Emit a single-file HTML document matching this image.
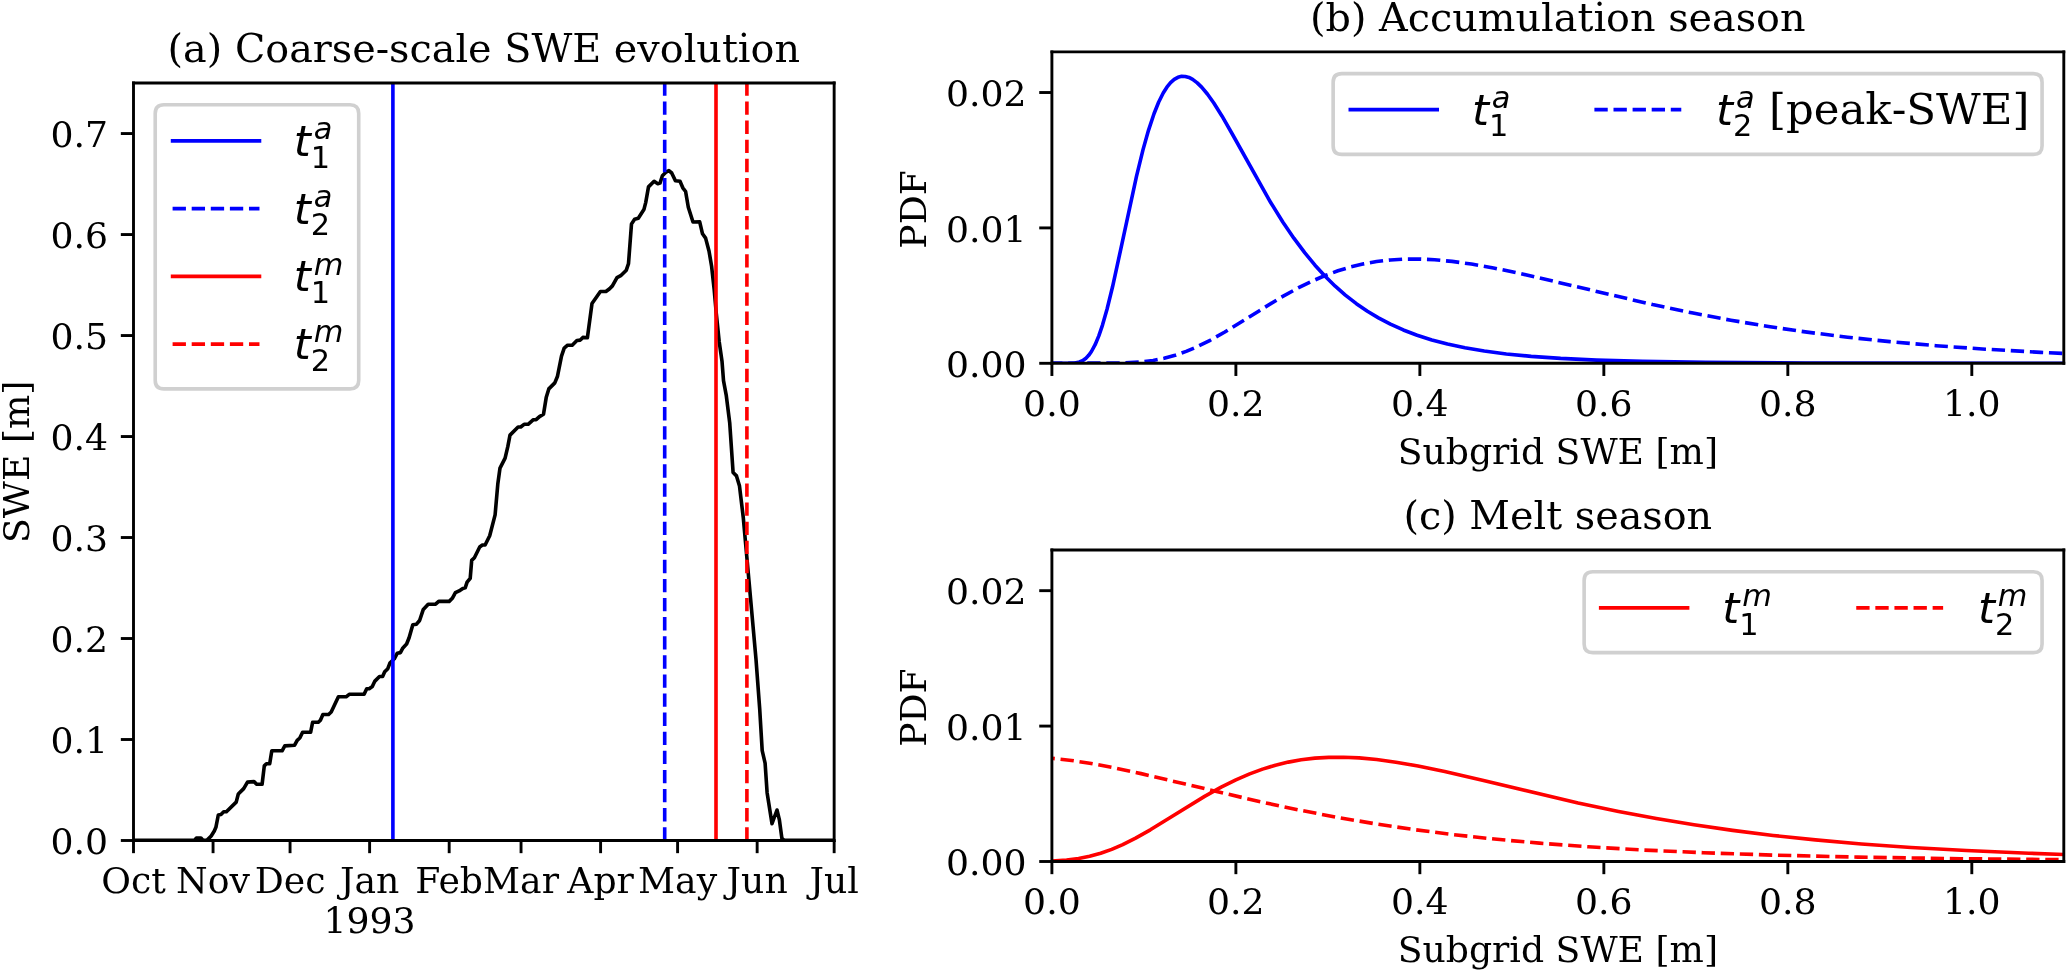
<!DOCTYPE html>
<html><head><meta charset="utf-8"><title>SWE figure</title>
<style>html,body{margin:0;padding:0;background:#fff;}body{width:2067px;height:972px;overflow:hidden;}svg{display:block;will-change:transform;}</style>
</head><body>
<svg width="2067" height="972" viewBox="0 0 570.994475 268.508287" version="1.1">
 <defs>
  <style type="text/css">*{stroke-linejoin: round; stroke-linecap: butt}</style>
 </defs>
 <g id="figure_1">
  <g id="patch_1">
   <path d="M 0 268.508287 L 570.994475 268.508287 L 570.994475 0 L 0 0 z
" style="fill: #ffffff"/>
  </g>
  <g id="axes_1">
   <g id="patch_2">
    <path d="M 36.878453 232.18232 L 230.428177 232.18232 L 230.428177 22.941989 L 36.878453 22.941989 z
" style="fill: #ffffff"/>
   </g>
   <g id="matplotlib.axis_1">
    <g id="xtick_1">
     <g id="line2d_1">
      <defs>
       <path id="m1504cfccaf" d="M 0 0 L 0 3.5 " style="stroke: #000000; stroke-width: 0.8"/>
      </defs>
      <g>
       <use href="#m1504cfccaf" x="36.878453" y="232.18232" style="stroke: #000000; stroke-width: 0.8"/>
      </g>
     </g>
     <g id="text_1">
      <text style="font-size: 10px; font-family: 'DejaVu Serif', serif; text-anchor: middle" x="36.878453" y="246.780758" transform="rotate(-0 36.878453 246.780758)">Oct</text>
     </g>
    </g>
    <g id="xtick_2">
     <g id="line2d_2">
      <g>
       <use href="#m1504cfccaf" x="58.856627" y="232.18232" style="stroke: #000000; stroke-width: 0.8"/>
      </g>
     </g>
     <g id="text_2">
      <text style="font-size: 10px; font-family: 'DejaVu Serif', serif; text-anchor: middle" x="58.856627" y="246.780758" transform="rotate(-0 58.856627 246.780758)">Nov</text>
     </g>
    </g>
    <g id="xtick_3">
     <g id="line2d_3">
      <g>
       <use href="#m1504cfccaf" x="80.125827" y="232.18232" style="stroke: #000000; stroke-width: 0.8"/>
      </g>
     </g>
     <g id="text_3">
      <text style="font-size: 10px; font-family: 'DejaVu Serif', serif; text-anchor: middle" x="80.125827" y="246.780758" transform="rotate(-0 80.125827 246.780758)">Dec</text>
     </g>
    </g>
    <g id="xtick_4">
     <g id="line2d_4">
      <g>
       <use href="#m1504cfccaf" x="102.104001" y="232.18232" style="stroke: #000000; stroke-width: 0.8"/>
      </g>
     </g>
     <g id="text_4">
      <text style="font-size: 10px; font-family: 'DejaVu Serif', serif" transform="translate(93.897751 246.780758)">Jan</text>
      <text style="font-size: 10px; font-family: 'DejaVu Serif', serif" transform="translate(89.379001 257.729951)">1993</text>
     </g>
    </g>
    <g id="xtick_5">
     <g id="line2d_5">
      <g>
       <use href="#m1504cfccaf" x="124.082175" y="232.18232" style="stroke: #000000; stroke-width: 0.8"/>
      </g>
     </g>
     <g id="text_5">
      <text style="font-size: 10px; font-family: 'DejaVu Serif', serif; text-anchor: middle" x="124.082175" y="246.780758" transform="rotate(-0 124.082175 246.780758)">Feb</text>
     </g>
    </g>
    <g id="xtick_6">
     <g id="line2d_6">
      <g>
       <use href="#m1504cfccaf" x="143.933428" y="232.18232" style="stroke: #000000; stroke-width: 0.8"/>
      </g>
     </g>
     <g id="text_6">
      <text style="font-size: 10px; font-family: 'DejaVu Serif', serif; text-anchor: middle" x="143.933428" y="246.780758" transform="rotate(-0 143.933428 246.780758)">Mar</text>
     </g>
    </g>
    <g id="xtick_7">
     <g id="line2d_7">
      <g>
       <use href="#m1504cfccaf" x="165.911602" y="232.18232" style="stroke: #000000; stroke-width: 0.8"/>
      </g>
     </g>
     <g id="text_7">
      <text style="font-size: 10px; font-family: 'DejaVu Serif', serif; text-anchor: middle" x="165.911602" y="246.780758" transform="rotate(-0 165.911602 246.780758)">Apr</text>
     </g>
    </g>
    <g id="xtick_8">
     <g id="line2d_8">
      <g>
       <use href="#m1504cfccaf" x="187.180803" y="232.18232" style="stroke: #000000; stroke-width: 0.8"/>
      </g>
     </g>
     <g id="text_8">
      <text style="font-size: 10px; font-family: 'DejaVu Serif', serif; text-anchor: middle" x="187.180803" y="246.63857" transform="rotate(-0 187.180803 246.63857)">May</text>
     </g>
    </g>
    <g id="xtick_9">
     <g id="line2d_9">
      <g>
       <use href="#m1504cfccaf" x="209.158976" y="232.18232" style="stroke: #000000; stroke-width: 0.8"/>
      </g>
     </g>
     <g id="text_9">
      <text style="font-size: 10px; font-family: 'DejaVu Serif', serif; text-anchor: middle" x="209.158976" y="246.780758" transform="rotate(-0 209.158976 246.780758)">Jun</text>
     </g>
    </g>
    <g id="xtick_10">
     <g id="line2d_10">
      <g>
       <use href="#m1504cfccaf" x="230.428177" y="232.18232" style="stroke: #000000; stroke-width: 0.8"/>
      </g>
     </g>
     <g id="text_10">
      <text style="font-size: 10px; font-family: 'DejaVu Serif', serif; text-anchor: middle" x="230.428177" y="246.780758" transform="rotate(-0 230.428177 246.780758)">Jul</text>
     </g>
    </g>
   </g>
   <g id="matplotlib.axis_2">
    <g id="ytick_1">
     <g id="line2d_11">
      <defs>
       <path id="m5d545ce8f8" d="M 0 0 L -3.5 0 " style="stroke: #000000; stroke-width: 0.8"/>
      </defs>
      <g>
       <use href="#m5d545ce8f8" x="36.878453" y="232.18232" style="stroke: #000000; stroke-width: 0.8"/>
      </g>
     </g>
     <g id="text_11">
      <text style="font-size: 10px; font-family: 'DejaVu Serif', serif; text-anchor: end" x="29.878453" y="235.981539" transform="rotate(-0 29.878453 235.981539)">0.0</text>
     </g>
    </g>
    <g id="ytick_2">
     <g id="line2d_12">
      <g>
       <use href="#m5d545ce8f8" x="36.878453" y="204.28361" style="stroke: #000000; stroke-width: 0.8"/>
      </g>
     </g>
     <g id="text_12">
      <text style="font-size: 10px; font-family: 'DejaVu Serif', serif; text-anchor: end" x="29.878453" y="208.082828" transform="rotate(-0 29.878453 208.082828)">0.1</text>
     </g>
    </g>
    <g id="ytick_3">
     <g id="line2d_13">
      <g>
       <use href="#m5d545ce8f8" x="36.878453" y="176.384899" style="stroke: #000000; stroke-width: 0.8"/>
      </g>
     </g>
     <g id="text_13">
      <text style="font-size: 10px; font-family: 'DejaVu Serif', serif; text-anchor: end" x="29.878453" y="180.184117" transform="rotate(-0 29.878453 180.184117)">0.2</text>
     </g>
    </g>
    <g id="ytick_4">
     <g id="line2d_14">
      <g>
       <use href="#m5d545ce8f8" x="36.878453" y="148.486188" style="stroke: #000000; stroke-width: 0.8"/>
      </g>
     </g>
     <g id="text_14">
      <text style="font-size: 10px; font-family: 'DejaVu Serif', serif; text-anchor: end" x="29.878453" y="152.285407" transform="rotate(-0 29.878453 152.285407)">0.3</text>
     </g>
    </g>
    <g id="ytick_5">
     <g id="line2d_15">
      <g>
       <use href="#m5d545ce8f8" x="36.878453" y="120.587477" style="stroke: #000000; stroke-width: 0.8"/>
      </g>
     </g>
     <g id="text_15">
      <text style="font-size: 10px; font-family: 'DejaVu Serif', serif; text-anchor: end" x="29.878453" y="124.386696" transform="rotate(-0 29.878453 124.386696)">0.4</text>
     </g>
    </g>
    <g id="ytick_6">
     <g id="line2d_16">
      <g>
       <use href="#m5d545ce8f8" x="36.878453" y="92.688766" style="stroke: #000000; stroke-width: 0.8"/>
      </g>
     </g>
     <g id="text_16">
      <text style="font-size: 10px; font-family: 'DejaVu Serif', serif; text-anchor: end" x="29.878453" y="96.487985" transform="rotate(-0 29.878453 96.487985)">0.5</text>
     </g>
    </g>
    <g id="ytick_7">
     <g id="line2d_17">
      <g>
       <use href="#m5d545ce8f8" x="36.878453" y="64.790055" style="stroke: #000000; stroke-width: 0.8"/>
      </g>
     </g>
     <g id="text_17">
      <text style="font-size: 10px; font-family: 'DejaVu Serif', serif; text-anchor: end" x="29.878453" y="68.589274" transform="rotate(-0 29.878453 68.589274)">0.6</text>
     </g>
    </g>
    <g id="ytick_8">
     <g id="line2d_18">
      <g>
       <use href="#m5d545ce8f8" x="36.878453" y="36.891344" style="stroke: #000000; stroke-width: 0.8"/>
      </g>
     </g>
     <g id="text_18">
      <text style="font-size: 10px; font-family: 'DejaVu Serif', serif; text-anchor: end" x="29.878453" y="40.690563" transform="rotate(-0 29.878453 40.690563)">0.7</text>
     </g>
    </g>
    <g id="ylabA">
     <text style="font-size: 10px; font-family: 'DejaVu Serif', serif; text-anchor: middle" x="7.895641" y="127.562155" transform="rotate(-90 7.895641 127.562155)">SWE [m]</text>
    </g>
   </g>
   <g id="line2d_19">
    <path d="M 36.878453 232.154696 L 53.674033 232.154696 L 54.226519 231.519337 L 55.524862 231.519337 L 56.132597 232.154696 L 57.127072 232.154696 L 58.342541 230.939227 L 59.198895 229.558011 L 59.640884 228.535912 L 60.303867 225.138122 L 61.049724 225 L 61.79558 224.254144 L 62.541436 224.254144 L 65.248619 221.574586 L 65.828729 219.337017 L 67.320442 217.845304 L 68.370166 216.049724 L 70.165746 215.911602 L 70.911602 216.657459 L 72.403315 216.657459 L 73.01105 211.574586 L 73.59116 210.994475 L 74.502762 210.994475 L 75.082873 207.403315 L 77.928177 207.403315 L 78.674033 206.049724 L 81.381215 205.856354 L 82.099448 204.502762 L 82.81768 203.867403 L 83.59116 202.292818 L 85.801105 202.292818 L 86.353591 199.530387 L 87.928177 199.530387 L 88.508287 198.950276 L 89.198895 197.375691 L 90.773481 197.375691 L 91.491713 196.685083 L 93.480663 192.486188 L 95.607735 192.486188 L 96.464088 191.79558 L 100.58011 191.79558 L 101.298343 190.276243 L 101.98895 190.276243 L 102.845304 189.668508 L 103.563536 188.149171 L 104.834254 186.878453 L 105.690608 186.878453 L 106.270718 185.58011 L 107.127072 184.723757 L 107.707182 183.176796 L 108.922652 181.98895 L 109.751381 180.441989 L 110.607735 180.276243 L 111.298343 178.977901 L 112.320442 177.900552 L 113.01105 176.187845 L 114.033149 172.596685 L 115.055249 172.430939 L 115.911602 171.40884 L 116.933702 168.342541 L 118.287293 166.906077 L 120.331492 166.906077 L 121.187845 166.132597 L 124.088398 166.132597 L 124.944751 165.276243 L 125.801105 163.729282 L 126.823204 163.232044 L 127.845304 162.541436 L 128.508287 162.375691 L 129.033149 160.828729 L 129.889503 159.751381 L 130.303867 154.80663 L 131.049724 154.060773 L 132.513812 151.104972 L 133.259669 150.552486 L 134.005525 150.552486 L 135.276243 147.983425 L 136.767956 142.237569 L 137.513812 133.729282 L 138.121547 129.309392 L 139.530387 126.546961 L 140.276243 123.39779 L 140.883978 120.19337 L 143.121547 117.955801 L 143.839779 117.955801 L 144.779006 117.209945 L 145.883978 117.209945 L 147.348066 115.939227 L 148.093923 115.939227 L 149.033149 115.082873 L 150.138122 114.447514 L 150.883978 109.834254 L 151.60221 107.430939 L 153.259669 105.773481 L 154.005525 103.922652 L 155.110497 98.370166 L 155.856354 96.160221 L 156.79558 95.359116 L 158.066298 95.359116 L 159.364641 94.060773 L 160.303867 93.950276 L 161.022099 93.20442 L 162.265193 93.314917 L 163.535912 83.839779 L 165.856354 80.524862 L 167.375691 80.524862 L 168.39779 79.751381 L 169.171271 78.977901 L 170.441989 76.685083 L 171.464088 76.160221 L 173.01105 74.640884 L 173.618785 72.845304 L 174.447514 61.850829 L 175.303867 60.58011 L 176.325967 60.303867 L 177.872928 57.900552 L 178.370166 55.966851 L 179.143646 51.629834 L 180.690608 50.082873 L 181.712707 50.745856 L 182.320442 50.58011 L 182.983425 48.535912 L 184.005525 47.513812 L 184.779006 47.154696 L 185.552486 47.790055 L 186.574586 49.917127 L 187.845304 50.082873 L 188.618785 51.878453 L 189.392265 52.900552 L 190.138122 57.237569 L 191.436464 61.325967 L 193.287293 61.298343 L 194.060773 64.585635 L 194.917127 65.773481 L 195.856354 69.337017 L 196.574586 73.535912 L 197.292818 80.082873 L 197.872928 86.657459 L 198.674033 94.392265 L 199.447514 99.779006 L 199.861878 105.138122 L 200.635359 109.309392 L 201.574586 116.767956 L 202.513812 130.524862 L 203.453039 131.464088 L 204.281768 134.281768 L 205.331492 143.038674 L 206.906077 160.552486 L 208.839779 182.154696 L 209.861878 195.801105 L 210.552486 207.375691 L 211.353591 210.801105 L 211.906077 218.977901 L 213.259669 227.513812 L 214.640884 223.756906 L 215.303867 226.491713 L 215.994475 231.60221 L 216.685083 232.154696 L 230.428177 232.154696 L 230.428177 232.154696 " clip-path="url(#p3d0e1f63e4)" style="fill: none; stroke: #000000; stroke-linecap: square"/>
   </g>
   <g id="line2d_20">
    <path d="M 108.535912 232.18232 L 108.535912 22.941989 " clip-path="url(#p3d0e1f63e4)" style="fill: none; stroke: #0000ff; stroke-linecap: square"/>
   </g>
   <g id="line2d_21">
    <path d="M 183.618785 232.18232 L 183.618785 22.941989 " clip-path="url(#p3d0e1f63e4)" style="fill: none; stroke-dasharray: 3.6826,1.5925; stroke-dashoffset: 0; stroke: #0000ff"/>
   </g>
   <g id="line2d_22">
    <path d="M 197.790055 232.18232 L 197.790055 22.941989 " clip-path="url(#p3d0e1f63e4)" style="fill: none; stroke: #ff0000; stroke-linecap: square"/>
   </g>
   <g id="line2d_23">
    <path d="M 206.325967 232.18232 L 206.325967 22.941989 " clip-path="url(#p3d0e1f63e4)" style="fill: none; stroke-dasharray: 3.6826,1.5925; stroke-dashoffset: 0; stroke: #ff0000"/>
   </g>
   <g id="patch_3">
    <path d="M 36.878453 232.18232 L 36.878453 22.941989 " style="fill: none; stroke: #000000; stroke-width: 0.8; stroke-linejoin: miter; stroke-linecap: square"/>
   </g>
   <g id="patch_4">
    <path d="M 230.428177 232.18232 L 230.428177 22.941989 " style="fill: none; stroke: #000000; stroke-width: 0.8; stroke-linejoin: miter; stroke-linecap: square"/>
   </g>
   <g id="patch_5">
    <path d="M 36.878453 232.18232 L 230.428177 232.18232 " style="fill: none; stroke: #000000; stroke-width: 0.8; stroke-linejoin: miter; stroke-linecap: square"/>
   </g>
   <g id="patch_6">
    <path d="M 36.878453 22.941989 L 230.428177 22.941989 " style="fill: none; stroke: #000000; stroke-width: 0.8; stroke-linejoin: miter; stroke-linecap: square"/>
   </g>
   <g id="titleA" transform="translate(0.0000 0.1657)">
    <text style="font-size: 10.97px; font-family: 'DejaVu Serif', serif; text-anchor: middle" x="133.653315" y="16.941989" transform="rotate(-0 133.653315 16.941989)">(a) Coarse-scale SWE evolution</text>
   </g>
   <g id="legend_1">
    <g id="legA_frame">
     <path d="M 45.278453 107.421989 L 96.696354 107.421989 Q 99.096354 107.421989 99.096354 105.021989 L 99.096354 31.341989 Q 99.096354 28.941989 96.696354 28.941989 L 45.278453 28.941989 Q 42.878453 28.941989 42.878453 31.341989 L 42.878453 105.021989 Q 42.878453 107.421989 45.278453 107.421989 z
" style="fill: #ffffff; fill-opacity: 0.8; stroke: #d0d0d0; stroke-linejoin: miter"/>
    </g>
    <g id="legA_line0">
     <path d="M 47.678453 38.901989 L 59.678453 38.901989 L 71.678453 38.901989 " style="fill: none; stroke: #0000ff; stroke-linecap: square"/>
    </g>
    <g id="legA_text0" transform="translate(-0.1381 0.6354)">
     <!-- $t_1^a$ -->
     <g transform="translate(81.278453 43.101989)">
      <text>
       <tspan x="0" y="-0.703125" style="font-style: oblique; font-size: 12px; font-family: 'DejaVu Sans', sans-serif">t</tspan>
       <tspan x="5.501328" y="-5.296875" style="font-style: oblique; font-size: 8.4px; font-family: 'DejaVu Sans', sans-serif">a</tspan>
       <tspan x="4.705078" y="2.578125" style="font-size: 8.4px; font-family: 'DejaVu Sans', sans-serif">1</tspan>
      </text>
     </g>
    </g>
    <g id="legA_line1">
     <path d="M 47.678453 57.621989 L 59.678453 57.621989 L 71.678453 57.621989 " style="fill: none; stroke-dasharray: 3.6826,1.5925; stroke-dashoffset: 0; stroke: #0000ff"/>
    </g>
    <g id="legA_text1" transform="translate(-0.1381 0.6354)">
     <!-- $t_2^a$ -->
     <g transform="translate(81.278453 61.821989)">
      <text>
       <tspan x="0" y="-0.703125" style="font-style: oblique; font-size: 12px; font-family: 'DejaVu Sans', sans-serif">t</tspan>
       <tspan x="5.501328" y="-5.296875" style="font-style: oblique; font-size: 8.4px; font-family: 'DejaVu Sans', sans-serif">a</tspan>
       <tspan x="4.705078" y="2.578125" style="font-size: 8.4px; font-family: 'DejaVu Sans', sans-serif">2</tspan>
      </text>
     </g>
    </g>
    <g id="legA_line2">
     <path d="M 47.678453 76.341989 L 59.678453 76.341989 L 71.678453 76.341989 " style="fill: none; stroke: #ff0000; stroke-linecap: square"/>
    </g>
    <g id="legA_text2" transform="translate(-0.1381 0.6354)">
     <!-- $t_1^m$ -->
     <g transform="translate(81.278453 80.541989)">
      <text>
       <tspan x="0" y="-0.703125" style="font-style: oblique; font-size: 12px; font-family: 'DejaVu Sans', sans-serif">t</tspan>
       <tspan x="5.501328" y="-5.296875" style="font-style: oblique; font-size: 8.4px; font-family: 'DejaVu Sans', sans-serif">m</tspan>
       <tspan x="4.705078" y="2.578125" style="font-size: 8.4px; font-family: 'DejaVu Sans', sans-serif">1</tspan>
      </text>
     </g>
    </g>
    <g id="legA_line3">
     <path d="M 47.678453 95.061989 L 59.678453 95.061989 L 71.678453 95.061989 " style="fill: none; stroke-dasharray: 3.6826,1.5925; stroke-dashoffset: 0; stroke: #ff0000"/>
    </g>
    <g id="legA_text3" transform="translate(-0.1381 0.6354)">
     <!-- $t_2^m$ -->
     <g transform="translate(81.278453 99.261989)">
      <text>
       <tspan x="0" y="-0.703125" style="font-style: oblique; font-size: 12px; font-family: 'DejaVu Sans', sans-serif">t</tspan>
       <tspan x="5.501328" y="-5.296875" style="font-style: oblique; font-size: 8.4px; font-family: 'DejaVu Sans', sans-serif">m</tspan>
       <tspan x="4.705078" y="2.578125" style="font-size: 8.4px; font-family: 'DejaVu Sans', sans-serif">2</tspan>
      </text>
     </g>
    </g>
   </g>
  </g>
  <g id="axes_2">
   <g id="patch_7">
    <path d="M 290.58011 100.359116 L 570.110497 100.359116 L 570.110497 14.337017 L 290.58011 14.337017 z
" style="fill: #ffffff"/>
   </g>
   <g id="matplotlib.axis_3">
    <g id="xtick_11">
     <g id="line2d_24">
      <g>
       <use href="#m1504cfccaf" x="290.58011" y="100.359116" style="stroke: #000000; stroke-width: 0.8"/>
      </g>
     </g>
     <g id="text_19">
      <text style="font-size: 10px; font-family: 'DejaVu Serif', serif; text-anchor: middle" x="290.58011" y="114.957554" transform="rotate(-0 290.58011 114.957554)">0.0</text>
     </g>
    </g>
    <g id="xtick_12">
     <g id="line2d_25">
      <g>
       <use href="#m1504cfccaf" x="341.403817" y="100.359116" style="stroke: #000000; stroke-width: 0.8"/>
      </g>
     </g>
     <g id="text_20">
      <text style="font-size: 10px; font-family: 'DejaVu Serif', serif; text-anchor: middle" x="341.403817" y="114.957554" transform="rotate(-0 341.403817 114.957554)">0.2</text>
     </g>
    </g>
    <g id="xtick_13">
     <g id="line2d_26">
      <g>
       <use href="#m1504cfccaf" x="392.227524" y="100.359116" style="stroke: #000000; stroke-width: 0.8"/>
      </g>
     </g>
     <g id="text_21">
      <text style="font-size: 10px; font-family: 'DejaVu Serif', serif; text-anchor: middle" x="392.227524" y="114.957554" transform="rotate(-0 392.227524 114.957554)">0.4</text>
     </g>
    </g>
    <g id="xtick_14">
     <g id="line2d_27">
      <g>
       <use href="#m1504cfccaf" x="443.051231" y="100.359116" style="stroke: #000000; stroke-width: 0.8"/>
      </g>
     </g>
     <g id="text_22">
      <text style="font-size: 10px; font-family: 'DejaVu Serif', serif; text-anchor: middle" x="443.051231" y="114.957554" transform="rotate(-0 443.051231 114.957554)">0.6</text>
     </g>
    </g>
    <g id="xtick_15">
     <g id="line2d_28">
      <g>
       <use href="#m1504cfccaf" x="493.874937" y="100.359116" style="stroke: #000000; stroke-width: 0.8"/>
      </g>
     </g>
     <g id="text_23">
      <text style="font-size: 10px; font-family: 'DejaVu Serif', serif; text-anchor: middle" x="493.874937" y="114.957554" transform="rotate(-0 493.874937 114.957554)">0.8</text>
     </g>
    </g>
    <g id="xtick_16">
     <g id="line2d_29">
      <g>
       <use href="#m1504cfccaf" x="544.698644" y="100.359116" style="stroke: #000000; stroke-width: 0.8"/>
      </g>
     </g>
     <g id="text_24">
      <text style="font-size: 10px; font-family: 'DejaVu Serif', serif; text-anchor: middle" x="544.698644" y="114.957554" transform="rotate(-0 544.698644 114.957554)">1.0</text>
     </g>
    </g>
    <g id="xlabB" transform="translate(0.0000 -0.4144)">
     <text style="font-size: 10px; font-family: 'DejaVu Serif', serif; text-anchor: middle" x="430.345304" y="128.635679" transform="rotate(-0 430.345304 128.635679)">Subgrid SWE [m]</text>
    </g>
   </g>
   <g id="matplotlib.axis_4">
    <g id="ytick_9">
     <g id="line2d_30">
      <g>
       <use href="#m5d545ce8f8" x="290.58011" y="100.359116" style="stroke: #000000; stroke-width: 0.8"/>
      </g>
     </g>
     <g id="text_25">
      <text style="font-size: 10px; font-family: 'DejaVu Serif', serif; text-anchor: end" x="283.58011" y="104.158335" transform="rotate(-0 283.58011 104.158335)">0.00</text>
     </g>
    </g>
    <g id="ytick_10">
     <g id="line2d_31">
      <g>
       <use href="#m5d545ce8f8" x="290.58011" y="62.958203" style="stroke: #000000; stroke-width: 0.8"/>
      </g>
     </g>
     <g id="text_26">
      <text style="font-size: 10px; font-family: 'DejaVu Serif', serif; text-anchor: end" x="283.58011" y="66.757422" transform="rotate(-0 283.58011 66.757422)">0.01</text>
     </g>
    </g>
    <g id="ytick_11">
     <g id="line2d_32">
      <g>
       <use href="#m5d545ce8f8" x="290.58011" y="25.55729" style="stroke: #000000; stroke-width: 0.8"/>
      </g>
     </g>
     <g id="text_27">
      <text style="font-size: 10px; font-family: 'DejaVu Serif', serif; text-anchor: end" x="283.58011" y="29.356509" transform="rotate(-0 283.58011 29.356509)">0.02</text>
     </g>
    </g>
    <g id="ylabB" transform="translate(0.5525 0.4972)">
     <text style="font-size: 10px; font-family: 'DejaVu Serif', serif; text-anchor: middle" x="255.234798" y="57.348066" transform="rotate(-90 255.234798 57.348066)">PDF</text>
    </g>
   </g>
   <g id="line2d_33">
    <path d="M 290.58011 100.359116 L 296.933074 100.264546 L 298.203666 99.999541 L 299.220141 99.533288 L 299.982496 98.96676 L 300.744852 98.167807 L 301.507207 97.101261 L 302.523682 95.219494 L 303.540156 92.785257 L 304.55663 89.80204 L 305.827223 85.358301 L 307.351934 79.15158 L 309.639001 68.686252 L 313.959016 48.635501 L 315.737845 41.403948 L 317.262557 35.99719 L 318.787268 31.41605 L 320.05786 28.258916 L 321.328453 25.705083 L 322.344927 24.087775 L 323.361401 22.835729 L 324.377875 21.93269 L 325.39435 21.35954 L 326.410824 21.095116 L 327.427298 21.116913 L 328.443772 21.401687 L 329.460246 21.925955 L 330.730839 22.882607 L 332.001431 24.132718 L 333.526143 25.960698 L 335.304972 28.459474 L 337.592039 32.102145 L 340.641462 37.428091 L 351.060321 56.016486 L 354.363862 61.307688 L 357.413285 65.790505 L 360.462707 69.868701 L 363.258011 73.252855 L 366.053315 76.309666 L 368.848619 79.056485 L 371.643923 81.514247 L 374.693345 83.892497 L 377.742767 85.983954 L 380.79219 87.818179 L 384.095731 89.547551 L 387.65339 91.147197 L 391.465168 92.600183 L 395.531065 93.897285 L 399.85108 95.036275 L 404.679332 96.069738 L 410.015821 96.975613 L 416.114666 97.773709 L 422.975866 98.443078 L 431.107659 99.009644 L 441.018282 99.472533 L 453.724209 99.835527 L 471.258388 100.100299 L 498.703189 100.268767 L 555.117504 100.346741 L 570.110497 100.351558 L 570.110497 100.351558 " clip-path="url(#pffacee2e98)" style="fill: none; stroke: #0000ff; stroke-linecap: square"/>
   </g>
   <g id="curveB2">
    <path d="M 290.58011 100.359116 L 310.909593 100.254124 L 315.229608 99.982282 L 318.533149 99.565143 L 321.582572 98.96796 L 324.631994 98.139742 L 327.681416 97.071878 L 330.730839 95.773408 L 334.288498 94.000084 L 338.354395 91.704605 L 344.199121 88.107514 L 353.601507 82.31331 L 358.17564 79.7685 L 362.241537 77.754443 L 366.053315 76.112474 L 369.610974 74.810203 L 373.168634 73.735357 L 376.726293 72.886035 L 380.283953 72.254985 L 384.095731 71.808178 L 387.907509 71.581408 L 391.973405 71.559567 L 396.29342 71.757007 L 401.121673 72.208888 L 406.458162 72.942794 L 412.557007 74.016367 L 419.926444 75.550396 L 430.345304 77.970401 L 456.519513 84.139386 L 467.700728 86.492161 L 478.119588 88.458213 L 488.538448 90.197237 L 499.211426 91.750218 L 510.392642 93.146854 L 522.082094 94.380787 L 534.788021 95.493661 L 548.510422 96.469571 L 563.757534 97.328323 L 570.110497 97.627586 L 570.110497 97.627586 " clip-path="url(#pffacee2e98)" style="fill: none; stroke-dasharray: 3.6826,1.5925; stroke-dashoffset: 0.7873; stroke: #0000ff"/>
   </g>
   <g id="patch_8">
    <path d="M 290.58011 100.359116 L 290.58011 14.337017 " style="fill: none; stroke: #000000; stroke-width: 0.8; stroke-linejoin: miter; stroke-linecap: square"/>
   </g>
   <g id="patch_9">
    <path d="M 570.110497 100.359116 L 570.110497 14.337017 " style="fill: none; stroke: #000000; stroke-width: 0.8; stroke-linejoin: miter; stroke-linecap: square"/>
   </g>
   <g id="patch_10">
    <path d="M 290.58011 100.359116 L 570.110497 100.359116 " style="fill: none; stroke: #000000; stroke-width: 0.8; stroke-linejoin: miter; stroke-linecap: square"/>
   </g>
   <g id="patch_11">
    <path d="M 290.58011 14.337017 L 570.110497 14.337017 " style="fill: none; stroke: #000000; stroke-width: 0.8; stroke-linejoin: miter; stroke-linecap: square"/>
   </g>
   <g id="titleB" transform="translate(0.0000 0.1934)">
    <text style="font-size: 10.97px; font-family: 'DejaVu Serif', serif; text-anchor: middle" x="430.345304" y="8.337017" transform="rotate(-0 430.345304 8.337017)">(b) Accumulation season</text>
   </g>
   <g id="legend_2">
    <g id="legB_frame">
     <path d="M 370.672928 42.657017 L 561.710497 42.657017 Q 564.110497 42.657017 564.110497 40.257017 L 564.110497 22.737017 Q 564.110497 20.337017 561.710497 20.337017 L 370.672928 20.337017 Q 368.272928 20.337017 368.272928 22.737017 L 368.272928 40.257017 Q 368.272928 42.657017 370.672928 42.657017 z
" style="fill: #ffffff; fill-opacity: 0.8; stroke: #d0d0d0; stroke-linejoin: miter"/>
    </g>
    <g id="legB_line0" transform="translate(2.7072 0.0000)">
     <path d="M 370.310497 30.297017 L 382.310497 30.297017 L 394.310497 30.297017 " style="fill: none; stroke: #0000ff; stroke-linecap: square"/>
    </g>
    <g id="legB_text0" transform="translate(2.7072 0.6077)">
     <!-- $t_1^a$ -->
     <g transform="translate(403.910497 34.497017)">
      <text>
       <tspan x="0" y="-0.703125" style="font-style: oblique; font-size: 12px; font-family: 'DejaVu Sans', sans-serif">t</tspan>
       <tspan x="5.501328" y="-5.296875" style="font-style: oblique; font-size: 8.4px; font-family: 'DejaVu Sans', sans-serif">a</tspan>
       <tspan x="4.705078" y="2.578125" style="font-size: 8.4px; font-family: 'DejaVu Sans', sans-serif">1</tspan>
      </text>
     </g>
    </g>
    <g id="legB_line1" transform="translate(1.4917 0.0000)">
     <path d="M 438.950497 30.297017 L 450.950497 30.297017 L 462.950497 30.297017 " style="fill: none; stroke-dasharray: 3.6826,1.5925; stroke-dashoffset: 0; stroke: #0000ff"/>
    </g>
    <g id="legB_text1" transform="translate(1.4917 0.6077)">
     <!-- $t_2^a$ [peak-SWE] -->
     <g transform="translate(472.550497 34.497017)">
      <text>
       <tspan x="0" y="-0.703125" style="font-style: oblique; font-size: 12px; font-family: 'DejaVu Sans', sans-serif">t</tspan>
       <tspan x="5.501328" y="-5.296875" style="font-style: oblique; font-size: 8.4px; font-family: 'DejaVu Sans', sans-serif">a</tspan>
       <tspan x="4.705078" y="2.578125" style="font-size: 8.4px; font-family: 'DejaVu Sans', sans-serif">2</tspan>
       <tspan x="10.811168" y="-0.868871" style="font-size: 12px; font-family: 'DejaVu Serif', serif"> </tspan>
       <tspan x="14.625621" y="-0.868871" style="font-size: 12px; font-family: 'DejaVu Serif', serif">[</tspan>
       <tspan x="19.307262" y="-0.868871" style="font-size: 12px; font-family: 'DejaVu Serif', serif">p</tspan>
       <tspan x="26.988902" y="-0.868871" style="font-size: 12px; font-family: 'DejaVu Serif', serif">e</tspan>
       <tspan x="34.090465" y="-0.868871" style="font-size: 12px; font-family: 'DejaVu Serif', serif">a</tspan>
       <tspan x="41.244762" y="-0.868871" style="font-size: 12px; font-family: 'DejaVu Serif', serif">k</tspan>
       <tspan x="48.516246" y="-0.868871" style="font-size: 12px; font-family: 'DejaVu Serif', serif">-</tspan>
       <tspan x="52.570934" y="-0.868871" style="font-size: 12px; font-family: 'DejaVu Serif', serif">S</tspan>
       <tspan x="60.791637" y="-0.868871" style="font-size: 12px; font-family: 'DejaVu Serif', serif">W</tspan>
       <tspan x="73.125621" y="-0.868871" style="font-size: 12px; font-family: 'DejaVu Serif', serif">E</tspan>
       <tspan x="81.885387" y="-0.868871" style="font-size: 12px; font-family: 'DejaVu Serif', serif">]</tspan>
      </text>
     </g>
    </g>
   </g>
  </g>
  <g id="axes_3">
   <g id="patch_12">
    <path d="M 290.58011 237.983425 L 570.110497 237.983425 L 570.110497 151.947514 L 290.58011 151.947514 z
" style="fill: #ffffff"/>
   </g>
   <g id="matplotlib.axis_5">
    <g id="xtick_17">
     <g id="line2d_34">
      <g>
       <use href="#m1504cfccaf" x="290.58011" y="237.983425" style="stroke: #000000; stroke-width: 0.8"/>
      </g>
     </g>
     <g id="text_28">
      <text style="font-size: 10px; font-family: 'DejaVu Serif', serif; text-anchor: middle" x="290.58011" y="252.581863" transform="rotate(-0 290.58011 252.581863)">0.0</text>
     </g>
    </g>
    <g id="xtick_18">
     <g id="line2d_35">
      <g>
       <use href="#m1504cfccaf" x="341.403817" y="237.983425" style="stroke: #000000; stroke-width: 0.8"/>
      </g>
     </g>
     <g id="text_29">
      <text style="font-size: 10px; font-family: 'DejaVu Serif', serif; text-anchor: middle" x="341.403817" y="252.581863" transform="rotate(-0 341.403817 252.581863)">0.2</text>
     </g>
    </g>
    <g id="xtick_19">
     <g id="line2d_36">
      <g>
       <use href="#m1504cfccaf" x="392.227524" y="237.983425" style="stroke: #000000; stroke-width: 0.8"/>
      </g>
     </g>
     <g id="text_30">
      <text style="font-size: 10px; font-family: 'DejaVu Serif', serif; text-anchor: middle" x="392.227524" y="252.581863" transform="rotate(-0 392.227524 252.581863)">0.4</text>
     </g>
    </g>
    <g id="xtick_20">
     <g id="line2d_37">
      <g>
       <use href="#m1504cfccaf" x="443.051231" y="237.983425" style="stroke: #000000; stroke-width: 0.8"/>
      </g>
     </g>
     <g id="text_31">
      <text style="font-size: 10px; font-family: 'DejaVu Serif', serif; text-anchor: middle" x="443.051231" y="252.581863" transform="rotate(-0 443.051231 252.581863)">0.6</text>
     </g>
    </g>
    <g id="xtick_21">
     <g id="line2d_38">
      <g>
       <use href="#m1504cfccaf" x="493.874937" y="237.983425" style="stroke: #000000; stroke-width: 0.8"/>
      </g>
     </g>
     <g id="text_32">
      <text style="font-size: 10px; font-family: 'DejaVu Serif', serif; text-anchor: middle" x="493.874937" y="252.581863" transform="rotate(-0 493.874937 252.581863)">0.8</text>
     </g>
    </g>
    <g id="xtick_22">
     <g id="line2d_39">
      <g>
       <use href="#m1504cfccaf" x="544.698644" y="237.983425" style="stroke: #000000; stroke-width: 0.8"/>
      </g>
     </g>
     <g id="text_33">
      <text style="font-size: 10px; font-family: 'DejaVu Serif', serif; text-anchor: middle" x="544.698644" y="252.581863" transform="rotate(-0 544.698644 252.581863)">1.0</text>
     </g>
    </g>
    <g id="xlabC" transform="translate(0.0000 -0.4144)">
     <text style="font-size: 10px; font-family: 'DejaVu Serif', serif; text-anchor: middle" x="430.345304" y="266.259988" transform="rotate(-0 430.345304 266.259988)">Subgrid SWE [m]</text>
    </g>
   </g>
   <g id="matplotlib.axis_6">
    <g id="ytick_12">
     <g id="line2d_40">
      <g>
       <use href="#m5d545ce8f8" x="290.58011" y="237.983425" style="stroke: #000000; stroke-width: 0.8"/>
      </g>
     </g>
     <g id="text_34">
      <text style="font-size: 10px; font-family: 'DejaVu Serif', serif; text-anchor: end" x="283.58011" y="241.782644" transform="rotate(-0 283.58011 241.782644)">0.00</text>
     </g>
    </g>
    <g id="ytick_13">
     <g id="line2d_41">
      <g>
       <use href="#m5d545ce8f8" x="290.58011" y="200.576507" style="stroke: #000000; stroke-width: 0.8"/>
      </g>
     </g>
     <g id="text_35">
      <text style="font-size: 10px; font-family: 'DejaVu Serif', serif; text-anchor: end" x="283.58011" y="204.375726" transform="rotate(-0 283.58011 204.375726)">0.01</text>
     </g>
    </g>
    <g id="ytick_14">
     <g id="line2d_42">
      <g>
       <use href="#m5d545ce8f8" x="290.58011" y="163.169589" style="stroke: #000000; stroke-width: 0.8"/>
      </g>
     </g>
     <g id="text_36">
      <text style="font-size: 10px; font-family: 'DejaVu Serif', serif; text-anchor: end" x="283.58011" y="166.968808" transform="rotate(-0 283.58011 166.968808)">0.02</text>
     </g>
    </g>
    <g id="ylabC" transform="translate(0.5525 0.4972)">
     <text style="font-size: 10px; font-family: 'DejaVu Serif', serif; text-anchor: middle" x="255.234798" y="194.96547" transform="rotate(-90 255.234798 194.96547)">PDF</text>
    </g>
   </g>
   <g id="line2d_43">
    <path d="M 290.58011 237.862626 L 294.646007 237.591529 L 297.949548 237.164046 L 300.99897 236.555448 L 304.048393 235.714895 L 307.097815 234.634706 L 310.147238 233.324773 L 313.704897 231.54007 L 317.770794 229.235083 L 323.61552 225.631661 L 332.763787 219.9921 L 337.337921 217.441253 L 341.403817 215.420687 L 345.215595 213.772041 L 348.773255 212.463317 L 352.330914 211.382017 L 355.888574 210.526408 L 359.446233 209.889367 L 363.258011 209.436573 L 367.069789 209.204339 L 371.135686 209.177294 L 375.455701 209.369932 L 380.283953 209.817322 L 385.620442 210.547282 L 391.719287 211.617536 L 399.088724 213.149016 L 409.507584 215.567569 L 435.935912 221.795496 L 447.117127 224.145328 L 457.535987 226.108311 L 467.954847 227.844238 L 478.627825 229.394194 L 489.809041 230.787926 L 501.498493 232.019165 L 514.20442 233.129519 L 527.926821 234.103158 L 543.173933 234.959871 L 560.453993 235.704171 L 570.110497 236.036311 L 570.110497 236.036311 " clip-path="url(#p6680d5133b)" style="fill: none; stroke: #ff0000; stroke-linecap: square"/>
   </g>
   <g id="curveC2">
    <path d="M 290.58011 209.481031 L 295.408363 209.994373 L 300.99897 210.825254 L 307.351934 212.00476 L 315.229608 213.703932 L 327.427298 216.59255 L 347.248543 221.271682 L 358.683877 223.722576 L 369.102737 225.730977 L 379.521597 227.512487 L 390.194576 229.106838 L 401.121673 230.512955 L 412.811125 231.788413 L 425.262933 232.919229 L 438.731215 233.917357 L 453.724209 234.801654 L 470.496032 235.565138 L 490.063159 236.225626 L 513.187946 236.77423 L 541.649221 237.215904 L 570.110497 237.492461 L 570.110497 237.492461 " clip-path="url(#p6680d5133b)" style="fill: none; stroke-dasharray: 3.6826,1.5925; stroke-dashoffset: 2.8729; stroke: #ff0000"/>
   </g>
   <g id="patch_13">
    <path d="M 290.58011 237.983425 L 290.58011 151.947514 " style="fill: none; stroke: #000000; stroke-width: 0.8; stroke-linejoin: miter; stroke-linecap: square"/>
   </g>
   <g id="patch_14">
    <path d="M 570.110497 237.983425 L 570.110497 151.947514 " style="fill: none; stroke: #000000; stroke-width: 0.8; stroke-linejoin: miter; stroke-linecap: square"/>
   </g>
   <g id="patch_15">
    <path d="M 290.58011 237.983425 L 570.110497 237.983425 " style="fill: none; stroke: #000000; stroke-width: 0.8; stroke-linejoin: miter; stroke-linecap: square"/>
   </g>
   <g id="patch_16">
    <path d="M 290.58011 151.947514 L 570.110497 151.947514 " style="fill: none; stroke: #000000; stroke-width: 0.8; stroke-linejoin: miter; stroke-linecap: square"/>
   </g>
   <g id="titleC" transform="translate(0.0000 0.2210)">
    <text style="font-size: 10.97px; font-family: 'DejaVu Serif', serif; text-anchor: middle" x="430.345304" y="145.947514" transform="rotate(-0 430.345304 145.947514)">(c) Melt season</text>
   </g>
   <g id="legend_3">
    <g id="legC_frame">
     <path d="M 440.006188 180.267514 L 561.710497 180.267514 Q 564.110497 180.267514 564.110497 177.867514 L 564.110497 160.347514 Q 564.110497 157.947514 561.710497 157.947514 L 440.006188 157.947514 Q 437.606188 157.947514 437.606188 160.347514 L 437.606188 177.867514 Q 437.606188 180.267514 440.006188 180.267514 z
" style="fill: #ffffff; fill-opacity: 0.8; stroke: #d0d0d0; stroke-linejoin: miter"/>
    </g>
    <g id="legC_line0" transform="translate(2.1547 0.0000)">
     <path d="M 440.030497 167.907514 L 452.030497 167.907514 L 464.030497 167.907514 " style="fill: none; stroke: #ff0000; stroke-linecap: square"/>
    </g>
    <g id="legC_text0" transform="translate(2.1547 0.6354)">
     <!-- $t_1^m$ -->
     <g transform="translate(473.630497 172.107514)">
      <text>
       <tspan x="0" y="-0.703125" style="font-style: oblique; font-size: 12px; font-family: 'DejaVu Sans', sans-serif">t</tspan>
       <tspan x="5.501328" y="-5.296875" style="font-style: oblique; font-size: 8.4px; font-family: 'DejaVu Sans', sans-serif">m</tspan>
       <tspan x="4.705078" y="2.578125" style="font-size: 8.4px; font-family: 'DejaVu Sans', sans-serif">1</tspan>
      </text>
     </g>
    </g>
    <g id="legC_line1" transform="translate(1.1050 0.0000)">
     <path d="M 511.670497 167.907514 L 523.670497 167.907514 L 535.670497 167.907514 " style="fill: none; stroke-dasharray: 3.6826,1.5925; stroke-dashoffset: 0; stroke: #ff0000"/>
    </g>
    <g id="legC_text1" transform="translate(1.1050 0.6354)">
     <!-- $t_2^m$ -->
     <g transform="translate(545.270497 172.107514)">
      <text>
       <tspan x="0" y="-0.703125" style="font-style: oblique; font-size: 12px; font-family: 'DejaVu Sans', sans-serif">t</tspan>
       <tspan x="5.501328" y="-5.296875" style="font-style: oblique; font-size: 8.4px; font-family: 'DejaVu Sans', sans-serif">m</tspan>
       <tspan x="4.705078" y="2.578125" style="font-size: 8.4px; font-family: 'DejaVu Sans', sans-serif">2</tspan>
      </text>
     </g>
    </g>
   </g>
  </g>
 </g>
 <defs>
  <clipPath id="p3d0e1f63e4">
   <rect x="36.878453" y="22.941989" width="193.549724" height="209.240331"/>
  </clipPath>
  <clipPath id="pffacee2e98">
   <rect x="290.58011" y="14.337017" width="279.530387" height="86.022099"/>
  </clipPath>
  <clipPath id="p6680d5133b">
   <rect x="290.58011" y="151.947514" width="279.530387" height="86.035912"/>
  </clipPath>
 </defs>
</svg>

</body></html>
